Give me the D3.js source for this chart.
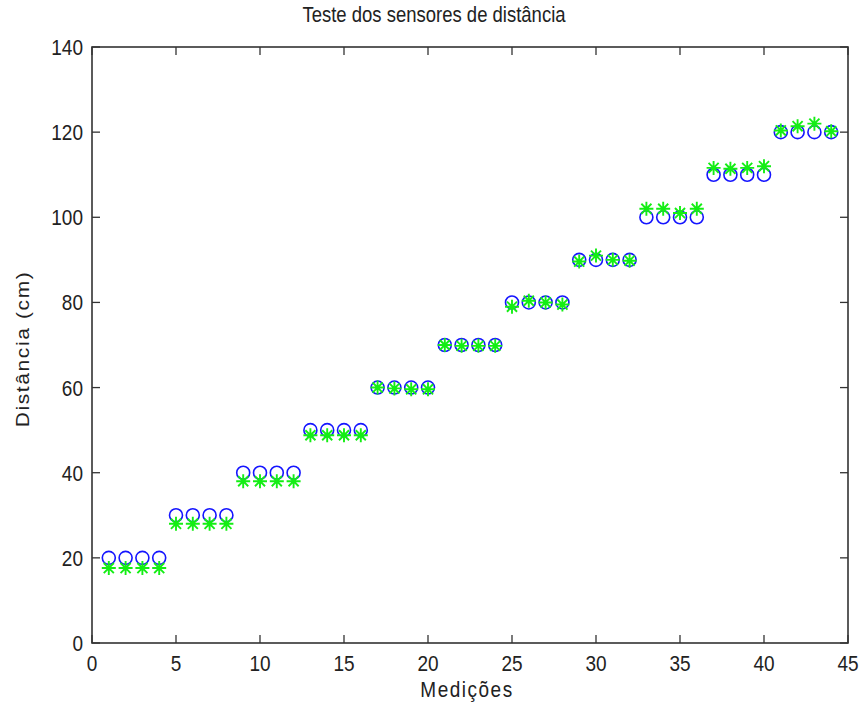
<!DOCTYPE html>
<html>
<head>
<meta charset="utf-8">
<script src="https://cdn.jsdelivr.net/npm/d3@7"></script>
<style>
  body { margin: 0; background: #fff; }
  text { font-family: "Liberation Sans", Arial, sans-serif; fill: #222; }
</style>
</head>
<body>
<div id="chart"></div>
<script>
// measurement index 1..44
const medicoes = d3.range(1, 45)

// reference distance (circles)
const referencia = [
  20, 20, 20, 20, 30, 30, 30, 30, 40, 40, 40, 40,
  50, 50, 50, 50, 60, 60, 60, 60, 70, 70, 70, 70,
  80, 80, 80, 80, 90, 90, 90, 90, 100, 100, 100, 100,
  110, 110, 110, 110, 120, 120, 120, 120
]

// sensor reading (stars)
const sensor = [
  17.6, 17.6, 17.6, 17.6, 28, 28, 28, 28, 38, 38, 38, 38,
  48.8, 48.8, 48.8, 48.8, 60, 59.8, 59.6, 59.6, 70, 69.8, 69.8, 69.8,
  79, 80.4, 80, 79.5, 89.6, 91, 90, 89.8, 102, 102, 101, 102,
  111.6, 111.4, 111.6, 112, 120.4, 121.4, 122, 120.2
]

const xTicks = [0, 5, 10, 15, 20, 25, 30, 35, 40, 45]
const yTicks = [0, 20, 40, 60, 80, 100, 120, 140]

const width = 862, height = 705
const margin = { left: 92, right: 14, top: 47, bottom: 62 }

const svg = d3.select("#chart").append("svg")
  .attr("width", width)
  .attr("height", height)

const x = d3.scaleLinear().domain([0, 45]).range([margin.left, width - margin.right])
const y = d3.scaleLinear().domain([0, 140]).range([height - margin.bottom, margin.top])

const tickLen = 8
const axisColor = "#333"

// box
svg.append("rect")
  .attr("x", x(0)).attr("y", y(140))
  .attr("width", x(45) - x(0)).attr("height", y(0) - y(140))
  .attr("fill", "none")
  .attr("stroke", axisColor)
  .attr("stroke-width", 1.6)

// bottom + top ticks (inward)
const xt = svg.append("g")
xt.selectAll(".xb").data(xTicks).enter().append("line")
  .attr("x1", d => x(d)).attr("x2", d => x(d))
  .attr("y1", y(0)).attr("y2", y(0) - tickLen)
  .attr("stroke", axisColor).attr("stroke-width", 1.3)
xt.selectAll(".xt").data(xTicks).enter().append("line")
  .attr("x1", d => x(d)).attr("x2", d => x(d))
  .attr("y1", y(140)).attr("y2", y(140) + tickLen)
  .attr("stroke", axisColor).attr("stroke-width", 1.3)
xt.selectAll("text").data(xTicks).enter().append("text")
  .attr("transform", d => "translate(" + x(d) + "," + (y(0) + 28) + ") scale(1,1.18)")
  .attr("text-anchor", "middle")
  .style("font-size", "19px")
  .text(d => d)

// left + right ticks
const yt = svg.append("g")
yt.selectAll(".yl").data(yTicks).enter().append("line")
  .attr("x1", x(0)).attr("x2", x(0) + tickLen)
  .attr("y1", d => y(d)).attr("y2", d => y(d))
  .attr("stroke", axisColor).attr("stroke-width", 1.3)
yt.selectAll(".yr").data(yTicks).enter().append("line")
  .attr("x1", x(45)).attr("x2", x(45) - tickLen)
  .attr("y1", d => y(d)).attr("y2", d => y(d))
  .attr("stroke", axisColor).attr("stroke-width", 1.3)
yt.selectAll("text").data(yTicks).enter().append("text")
  .attr("transform", d => "translate(" + (x(0) - 9) + "," + (y(d) + 8) + ") scale(1,1.18)")
  .attr("text-anchor", "end")
  .style("font-size", "19px")
  .text(d => d)

// circles (reference)
svg.append("g").selectAll("circle")
  .data(medicoes)
  .enter().append("circle")
  .attr("cx", (d, i) => x(d))
  .attr("cy", (d, i) => y(referencia[i]))
  .attr("r", 6.5)
  .attr("fill", "none")
  .attr("stroke", "#1515ff")
  .attr("stroke-width", 1.6)

// stars (sensor) - asterisk made of 4 strokes
const s = 7, sd = s * 0.72
const star = `M${-s},0L${s},0M0,${-s}L0,${s}M${-sd},${-sd}L${sd},${sd}M${-sd},${sd}L${sd},${-sd}`
svg.append("g").selectAll("path")
  .data(medicoes)
  .enter().append("path")
  .attr("transform", (d, i) => "translate(" + x(d) + "," + y(sensor[i]) + ")")
  .attr("d", star)
  .attr("stroke", "#14ee14")
  .attr("stroke-width", 1.9)
  .attr("fill", "none")

// title and labels
svg.append("text")
  .attr("transform", "translate(434,22) scale(1,1.15)")
  .attr("text-anchor", "middle")
  .style("font-size", "18.5px")
  .text("Teste dos sensores de distância")

svg.append("text")
  .attr("transform", "translate(467,697) scale(1,1.15)")
  .attr("text-anchor", "middle")
  .style("font-size", "19px")
  .style("letter-spacing", "1.5px")
  .text("Medições")

svg.append("text")
  .attr("transform", "translate(29," + 349 + ") rotate(-90) scale(1.1,1)")
  .attr("text-anchor", "middle")
  .style("font-size", "19px")
  .style("letter-spacing", "1.5px")
  .text("Distância (cm)")
</script>
</body>
</html>
